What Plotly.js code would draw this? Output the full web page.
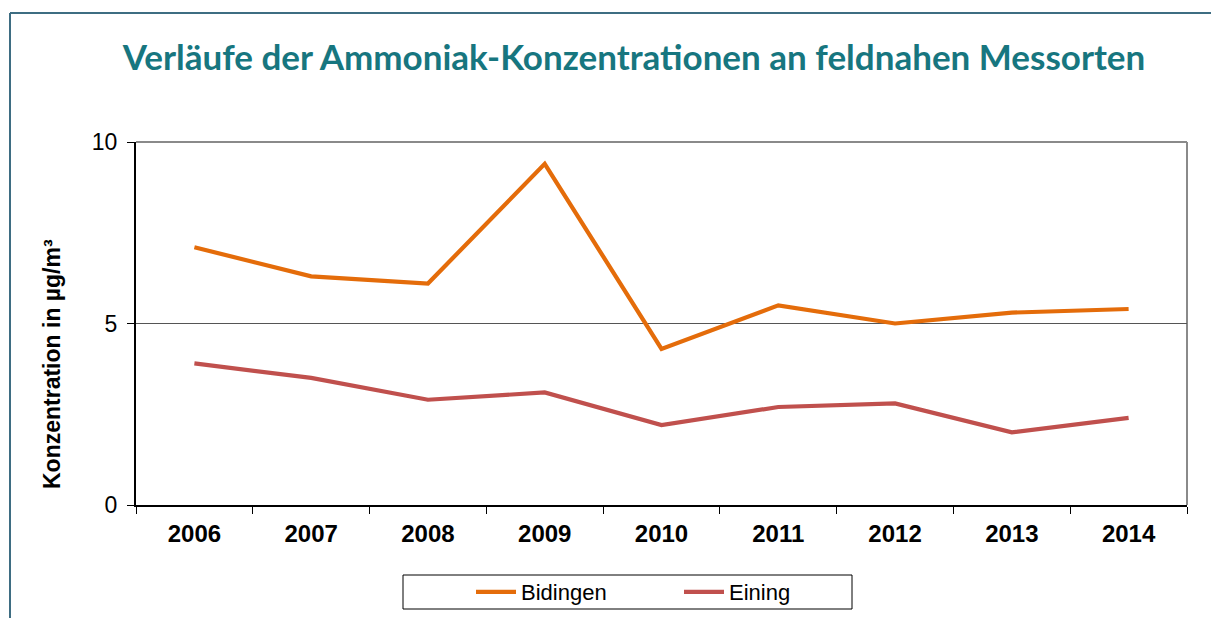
<!DOCTYPE html>
<html>
<head>
<meta charset="utf-8">
<script src="https://cdn.plot.ly/plotly-3.0.1.min.js"></script>
<style>
html,body{margin:0;padding:0;background:#fff;}
#chart{width:1211px;height:618px;}
</style>
</head>
<body>
<div id="chart"></div>
<script>
const years = ["2006","2007","2008","2009","2010","2011","2012","2013","2014"];
const bidingen = [7.1, 6.3, 6.1, 9.4, 4.3, 5.5, 5.0, 5.3, 5.4];
const eining = [3.9, 3.5, 2.9, 3.1, 2.2, 2.7, 2.8, 2.0, 2.4];
const seriesNames = ["Bidingen", "Eining"];
const titleText = "Verläufe der Ammoniak-Konzentrationen an feldnahen Messorten";
const yTitle = "Konzentration in µg/m³";

const L = 136, R = 1187, T = 142, B = 505, W = 1211, H = 618;
const pw = R - L, ph = B - T;
const px = x => (x - L) / pw;
const py = y => (B - y) / ph;
const FONT = "'Liberation Sans', Arial, sans-serif";

const traces = [
  {x: years, y: bidingen, name: seriesNames[0], type: "scatter", mode: "lines",
   line: {color: "#E46C0A", width: 4.2}},
  {x: years, y: eining, name: seriesNames[1], type: "scatter", mode: "lines",
   line: {color: "#C0504D", width: 4.2}}
];

const layout = {
  width: W, height: H,
  margin: {l: L, r: W - R, t: T, b: H - B, pad: 0},
  paper_bgcolor: "#fff", plot_bgcolor: "#fff",
  showlegend: true,
  title: {text: "<b>" + titleText + "</b>", xref: "container", x: 634 / W, xanchor: "center",
          yref: "container", y: 1 - 58/H, yanchor: "middle",
          font: {family: "Lato, 'Open Sans', sans-serif", size: 35, color: "#17767F"}},
  xaxis: {type: "category", range: [-0.5, 8.5], tickson: "boundaries", ticks: "outside", ticklen: 7,
          tickcolor: "#000", tickwidth: 1, showline: true, linecolor: "#000", linewidth: 2,
          showgrid: false, zeroline: false, fixedrange: true, automargin: false, ticklabelstandoff: 6,
          tickfont: {family: FONT, size: 24, color: "#000", weight: "bold"}},
  yaxis: {range: [0, 10], tickvals: [0, 5, 10], ticktext: ["0", "5", "10"], ticks: "outside", ticklen: 7,
          tickcolor: "#000", tickwidth: 1, showline: true, linecolor: "#000", linewidth: 2,
          showgrid: true, gridcolor: "#555", gridwidth: 1, zeroline: false, fixedrange: true,
          automargin: false, ticklabelstandoff: 5,
          tickfont: {family: FONT, size: 23, color: "#000"}},
  legend: {orientation: "h", x: px(471), xanchor: "left", y: (H - 592) / H, yanchor: "middle",
           xref: "paper", yref: "container",
           borderwidth: 0, bgcolor: "rgba(0,0,0,0)",
           font: {family: FONT, size: 22, color: "#000"},
           entrywidth: 153, entrywidthmode: "pixels", itemwidth: 40},
  annotations: [
    {text: "<b>" + yTitle + "</b>", xref: "paper", yref: "paper", x: px(52), y: py(364),
     xanchor: "center", yanchor: "middle", textangle: -90, showarrow: false,
     font: {family: FONT, size: 23, color: "#000"}}
  ],
  shapes: [
    {type: "line", xref: "paper", yref: "paper", x0: 0, x1: 1, y0: 1, y1: 1,
     line: {color: "#8a8a8a", width: 2}, layer: "below"},
    {type: "line", xref: "paper", yref: "paper", x0: 1, x1: 1, y0: 0, y1: 1,
     line: {color: "#8a8a8a", width: 2}, layer: "below"},
    {type: "rect", xref: "paper", yref: "paper", x0: px(403), x1: px(852), y0: py(575), y1: py(609),
     line: {color: "#000", width: 1}, fillcolor: "rgba(0,0,0,0)"},
    {type: "line", xref: "paper", yref: "paper", x0: px(10), x1: px(1215), y0: py(13), y1: py(13),
     line: {color: "#3E6D82", width: 2}},
    {type: "line", xref: "paper", yref: "paper", x0: px(10), x1: px(10), y0: py(13), y1: py(625),
     line: {color: "#3E6D82", width: 2}}
  ]
};

Plotly.newPlot("chart", traces, layout, {displayModeBar: false, staticPlot: true});
</script>
</body>
</html>
